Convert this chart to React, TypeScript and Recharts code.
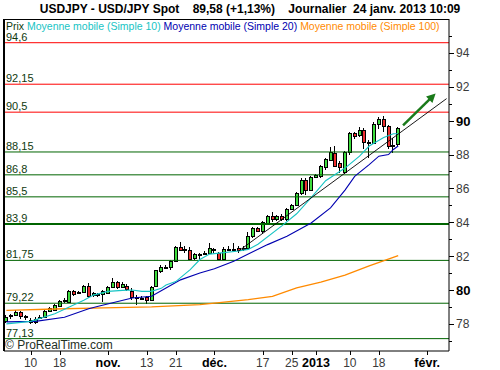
import React from 'react';
import { ComposedChart, Bar, Line, XAxis, YAxis, ReferenceLine } from 'recharts';

// trading days shown on the axis (the last ones are empty space to the right)
const octDays = [3, 4, 5, 8, 9, 10, 11, 12, 15, 16, 17, 18, 19, 22, 23, 24, 25, 26, 29, 30, 31];
const novDays = [1, 2, 5, 6, 7, 8, 9, 12, 13, 14, 15, 16, 19, 20, 21, 22, 23, 26, 27, 28, 29, 30];
const decDays = [3, 4, 5, 6, 7, 10, 11, 12, 13, 14, 17, 18, 19, 20, 21, 24, 25, 26, 27, 28, 31];
const janDays = [1, 2, 3, 4, 7, 8, 9, 10, 11, 14, 15, 16, 17, 18, 21, 22, 23, 24, 25, 28, 29, 30, 31];
const febDays = [1, 4, 5, 6, 7];

const pad = (d: number) => (d < 10 ? '0' + d : '' + d);
const dates: string[] = [
  ...octDays.map((d) => `2012-10-${pad(d)}`),
  ...novDays.map((d) => `2012-11-${pad(d)}`),
  ...decDays.map((d) => `2012-12-${pad(d)}`),
  ...janDays.map((d) => `2013-01-${pad(d)}`),
  ...febDays.map((d) => `2013-02-${pad(d)}`),
];

// daily candles, 3 Oct 2012 -> 24 Jan 2013
const opens = [
  78.15, 78.45, 78.55, 78.7, 78.45, 78.25, 78.1, 78.35, 78.4, 78.75, 78.8, 79.05, 79.35, 79.3, 79.92, 79.85, 79.87, 80.22, 79.72, 79.78, 79.78,
  79.83, 80.18, 80.45, 80.18, 80.26, 79.97, 79.55, 79.5, 79.57, 79.43, 80.22, 81.15, 81.36, 81.36, 81.7, 82.55, 82.4, 82.39, 81.9, 82.1, 82.2, 82.19,
  82.45, 82.19, 81.84, 82.43, 82.45, 82.5, 82.4, 82.5, 83.2, 83.67, 83.47, 83.96, 84.39, 84.2, 84.39, 84.2, 84.8, 85.04, 85.73, 86.52, 85.93,
  86.68, 86.71, 87.27, 87.7, 88.1, 87.5, 86.95, 88.13, 89.27, 89.17, 89.47, 88.72, 88.68, 89.82, 90.1, 89.66, 88.52, 88.6,
];
const highs = [
  78.5, 78.6, 78.85, 78.75, 78.5, 78.35, 78.4, 78.5, 78.85, 79.0, 79.15, 79.4, 79.5, 80.0, 80.0, 79.95, 80.3, 80.4, 79.9, 79.85, 80.0,
  80.25, 80.7, 80.55, 80.5, 80.35, 80.1, 79.7, 79.65, 79.65, 80.25, 81.2, 81.45, 81.5, 81.8, 82.6, 82.85, 82.6, 82.55, 82.2, 82.2, 82.3, 82.78,
  82.5, 82.25, 82.55, 82.6, 82.8, 82.6, 82.6, 83.4, 83.75, 83.75, 84.1, 84.45, 84.6, 84.45, 84.5, 84.85, 85.1, 85.8, 86.6, 86.6, 86.75,
  86.85, 87.4, 87.8, 88.45, 88.5, 87.6, 88.2, 89.35, 89.35, 89.65, 89.55, 88.85, 89.9, 90.2, 90.25, 89.75, 88.95, 89.65,
];
const lows = [
  78.05, 78.3, 78.45, 78.3, 78.25, 78.0, 78.0, 78.3, 78.35, 78.7, 78.75, 79.0, 79.25, 79.25, 79.65, 79.75, 79.8, 79.55, 79.6, 79.6, 79.3,
  79.75, 80.1, 80.05, 80.1, 79.95, 79.4, 79.1, 79.4, 79.2, 79.35, 80.15, 81.0, 81.25, 81.2, 81.65, 82.3, 82.2, 81.8, 81.8, 81.7, 82.05, 82.1,
  82.2, 81.78, 81.8, 82.3, 82.25, 82.2, 82.3, 82.45, 83.1, 83.4, 83.3, 83.9, 84.0, 84.05, 84.05, 84.1, 84.7, 84.95, 85.6, 85.6, 85.85,
  86.6, 86.6, 87.1, 87.6, 87.25, 86.9, 86.85, 88.0, 88.9, 89.05, 88.3, 87.8, 88.6, 89.5, 89.35, 88.35, 88.1, 88.45,
];
const closes = [
  78.4, 78.5, 78.7, 78.45, 78.4, 78.1, 78.3, 78.4, 78.75, 78.95, 79.1, 79.33, 79.4, 79.95, 79.75, 79.88, 80.22, 79.63, 79.8, 79.7, 79.92,
  80.18, 80.48, 80.15, 80.36, 80.07, 79.57, 79.6, 79.55, 79.43, 80.16, 81.16, 81.34, 81.38, 81.7, 82.55, 82.38, 82.35, 81.86, 82.15, 82.13, 82.2, 82.49,
  82.4, 81.84, 82.45, 82.45, 82.45, 82.38, 82.5, 83.2, 83.67, 83.5, 84.0, 84.35, 84.2, 84.39, 84.2, 84.8, 85.04, 85.73, 86.52, 85.93, 86.68,
  86.81, 87.3, 87.74, 88.13, 87.3, 87.25, 88.13, 89.27, 89.1, 89.47, 88.74, 88.7, 89.82, 90.1, 89.66, 88.52, 88.55, 89.58,
];

// moving averages
const ma10Pts: [string, number][] = [
  ['2012-10-03', 78.0], ['2012-10-10', 78.15], ['2012-10-17', 78.6], ['2012-10-22', 79.0], ['2012-10-25', 79.4],
  ['2012-10-29', 79.7], ['2012-11-01', 79.92], ['2012-11-06', 79.98], ['2012-11-08', 80.0], ['2012-11-12', 79.92],
  ['2012-11-14', 79.92], ['2012-11-16', 80.1], ['2012-11-19', 80.3], ['2012-11-21', 80.5], ['2012-11-26', 81.2],
  ['2012-11-28', 81.8], ['2012-11-30', 82.12], ['2012-12-04', 82.18], ['2012-12-10', 82.3], ['2012-12-12', 82.4],
  ['2012-12-14', 82.7], ['2012-12-21', 83.8], ['2012-12-26', 84.5], ['2012-12-31', 85.45], ['2013-01-03', 86.45],
  ['2013-01-09', 87.2], ['2013-01-14', 87.9], ['2013-01-16', 88.5], ['2013-01-21', 89.0], ['2013-01-23', 89.23], ['2013-01-24', 89.23],
];
const ma20Pts: [string, number][] = [
  ['2012-10-03', 78.12], ['2012-10-11', 78.15], ['2012-10-19', 78.39], ['2012-10-26', 78.89], ['2012-10-30', 79.04],
  ['2012-11-08', 79.53], ['2012-11-14', 79.63], ['2012-11-19', 80.12], ['2012-11-22', 80.6], ['2012-11-28', 81.0],
  ['2012-12-03', 81.26], ['2012-12-07', 81.7], ['2012-12-12', 82.13], ['2012-12-18', 82.68], ['2012-12-24', 83.17],
  ['2012-12-31', 83.96], ['2013-01-04', 84.85], ['2013-01-09', 85.9], ['2013-01-11', 86.71], ['2013-01-16', 87.4],
  ['2013-01-18', 87.9], ['2013-01-22', 88.0], ['2013-01-23', 88.3], ['2013-01-24', 88.5],
];
const ma100Pts: [string, number][] = [
  ['2012-10-03', 78.8], ['2012-10-17', 78.88], ['2012-10-31', 78.95], ['2012-11-14', 79.0], ['2012-11-28', 79.14],
  ['2012-12-12', 79.43], ['2012-12-19', 79.63], ['2012-12-26', 80.12], ['2013-01-02', 80.46], ['2013-01-09', 80.88],
  ['2013-01-16', 81.42], ['2013-01-24', 82.03],
];

// drawn trend line and arrow
const trendPts: [string, number][] = [['2012-12-10', 82.3], ['2013-02-07', 91.3]];
const arrowPts: [string, number][] = [['2013-01-25', 89.72], ['2013-02-04', 91.4]];

const resistances = ['94,6', '92,15', '90,5'];
const resistanceVals = [94.6, 92.15, 90.5];
const supports = ['88,15', '86,8', '85,5', '83,9', '81,75', '79,22', '77,13'];
const supportVals = [88.15, 86.8, 85.5, 83.9, 81.75, 79.22, 77.13];

const xTickDates = ['2012-10-10', '2012-10-18', '2012-11-01', '2012-11-13', '2012-11-21', '2012-12-03',
  '2012-12-17', '2012-12-25', '2013-01-01', '2013-01-10', '2013-01-18', '2013-02-01'];
const xTickLabels = ['10', '18', 'nov.', '13', '21', 'déc.', '17', '25', '2013', '10', '18', 'févr.'];
const boldXLabels = ['nov.', 'déc.', '2013', 'févr.'];
const yTicks = [77, 78, 79, 80, 81, 82, 83, 84, 85, 86, 87, 88, 89, 90, 91, 92, 93, 94, 95];

const FONT = '"Liberation Sans", Arial, sans-serif';
const GREEN = '#3ddc3d';
const RED = '#ee2f2f';

const m10 = new Map(ma10Pts);
const m20 = new Map(ma20Pts);
const m100 = new Map(ma100Pts);
const mTrend = new Map(trendPts);
const mArrow = new Map(arrowPts);

const data = dates.map((date, i) => {
  const has = i < closes.length;
  return {
    date,
    open: has ? opens[i] : null,
    high: has ? highs[i] : null,
    low: has ? lows[i] : null,
    close: has ? closes[i] : null,
    range: has ? [lows[i], highs[i]] : null,
    ma10: m10.get(date) ?? null,
    ma20: m20.get(date) ?? null,
    ma100: m100.get(date) ?? null,
    trend: mTrend.get(date) ?? null,
    arrow: mArrow.get(date) ?? null,
  };
});
const arrowEnd = dates.indexOf(arrowPts[1][0]);

const Candle = (props: any) => {
  const { x, y, width, height, payload } = props;
  if (!payload || payload.open == null) return <g />;
  const { open, close, high, low } = payload;
  const top = Math.min(y, y + height);
  const h = Math.abs(height);
  const k = h / (high - low);
  const cx = Math.round(x + width / 2);
  const yOf = (v: number) => top + (high - v) * k;
  const bTop = Math.round(yOf(Math.max(open, close)));
  const bBot = Math.round(yOf(Math.min(open, close)));
  const up = close >= open;
  return (
    <g>
      <line x1={cx - 0.5} x2={cx - 0.5} y1={Math.round(top)} y2={Math.round(top + h)} stroke="#000" strokeWidth={1} />
      <rect x={cx - 1.5} y={bTop + 0.5} width={3} height={Math.max(bBot - bTop, 1)}
        fill={up ? GREEN : RED} stroke="#000" strokeWidth={1} />
    </g>
  );
};

const ArrowHead = (props: any) => {
  const { cx, cy, index } = props;
  if (index !== arrowEnd || cx == null) return <g key={`a${index}`} />;
  const a = -Math.PI / 4;
  const ux = Math.cos(a), uy = Math.sin(a);
  const px = -uy, py = ux;
  const tip = [cx + ux * 5, cy + uy * 5];
  const b1 = [cx - ux * 4 + px * 4.5, cy - uy * 4 + py * 4.5];
  const b2 = [cx - ux * 4 - px * 4.5, cy - uy * 4 - py * 4.5];
  return <polygon key={`a${index}`} points={`${tip.join(',')} ${b1.join(',')} ${b2.join(',')}`} fill="#1a7a1a" />;
};

const YTick = (props: any) => {
  const { x, y, payload } = props;
  const v = payload.value;
  const major = v % 2 === 0;
  const bold = v === 80 || v === 90;
  return (
    <g>
      <line x1={x} x2={x + (major ? 5 : 3)} y1={Math.round(y) + 0.5} y2={Math.round(y) + 0.5} stroke="#000" />
      {major && (
        <text x={x + 7} y={y + (bold ? 5 : 4.5)} fontFamily={FONT} fontSize={bold ? 13 : 12}
          fontWeight={bold ? 700 : 400} fill={bold ? '#000' : '#3a3a3a'}>{v}</text>
      )}
    </g>
  );
};

const XTick = (props: any) => {
  const { x, y, payload } = props;
  const label = xTickLabels[xTickDates.indexOf(payload.value)] ?? '';
  const bold = boldXLabels.includes(label);
  const lx = Math.round(x) + 0.5;
  return (
    <g>
      <line x1={lx} x2={lx} y1={y} y2={y + 4} stroke="#000" />
      <text x={x} y={y + 16} textAnchor="middle" fontFamily={FONT} fontSize={bold ? 12.5 : 12}
        fontWeight={bold ? 700 : 400} fill={bold ? '#000' : '#3a3a3a'}>{label}</text>
    </g>
  );
};

const levelLabel = (txt: string) => (p: any) => (
  <text x={p.viewBox.x + 2} y={p.viewBox.y - 2} fontFamily={FONT} fontSize={11} fill="#0f3a0f">{txt}</text>
);

export default function App() {
  return (
    <div style={{ position: 'absolute', left: 0, top: 0, width: 500, height: 370, background: '#fff', fontFamily: FONT }}>
      <ComposedChart width={500} height={370} data={data} margin={{ top: 19, right: 0, bottom: 0, left: 4 }}
        barCategoryGap={0}>
        <XAxis dataKey="date" type="category" ticks={xTickDates} interval={0} height={19}
          axisLine={{ stroke: '#000' }} tickLine={false} tickSize={0} tickMargin={0} tick={<XTick />} />
        <YAxis orientation="right" type="number" domain={[76.4, 96]} ticks={yTicks} interval={0} width={51}
          axisLine={{ stroke: '#000' }} tickLine={false} tickSize={0} tickMargin={0} tick={<YTick />} />
        {resistanceVals.map((v, i) => (
          <ReferenceLine key={'r' + i} y={v} stroke="#ff0000" strokeWidth={1} label={levelLabel(resistances[i])} />
        ))}
        {supportVals.map((v, i) => (
          <ReferenceLine key={'s' + i} y={v} stroke="#006400" strokeWidth={v === 83.9 ? 2 : 1} label={levelLabel(supports[i])} />
        ))}
        <Line dataKey="ma100" type="linear" stroke="#ff8a00" strokeWidth={1.3} dot={false} connectNulls isAnimationActive={false} />
        <Line dataKey="ma20" type="linear" stroke="#0000b0" strokeWidth={1.1} dot={false} connectNulls isAnimationActive={false} />
        <Line dataKey="ma10" type="linear" stroke="#16c4c4" strokeWidth={1.1} dot={false} connectNulls isAnimationActive={false} />
        <Line dataKey="trend" type="linear" stroke="#000" strokeWidth={0.9} dot={false} connectNulls isAnimationActive={false} />
        <Bar dataKey="range" shape={<Candle />} isAnimationActive={false} />
        <Line dataKey="arrow" type="linear" stroke="#1a7a1a" strokeWidth={2.5} dot={<ArrowHead />} connectNulls isAnimationActive={false} />
      </ComposedChart>
      {/* title */}
      <div style={{ position: 'absolute', left: 0, top: 1, width: 500, textAlign: 'center', fontSize: 12, fontWeight: 700,
        lineHeight: '16px', whiteSpace: 'pre', color: '#000' }}>
        {'USDJPY - USD/JPY Spot    89,58 (+1,13%)    Journalier  24 janv. 2013 10:09'}
      </div>
      {/* frame */}
      <div style={{ position: 'absolute', left: 3, top: 19, width: 446, height: 1, background: '#000' }} />
      <div style={{ position: 'absolute', left: 3, top: 19, width: 2, height: 332, background: '#000' }} />
      {/* legend */}
      <div style={{ position: 'absolute', left: 6, top: 19, fontSize: 10.5, lineHeight: '14px', whiteSpace: 'pre' }}>
        <span style={{ color: '#0f3a0f' }}>Prix </span>
        <span style={{ color: '#16c4c4' }}>Moyenne mobile (Simple 10) </span>
        <span style={{ color: '#0000b0' }}>Moyenne mobile (Simple 20) </span>
        <span style={{ color: '#ff8a00' }}>Moyenne mobile (Simple 100)</span>
      </div>
      <div style={{ position: 'absolute', left: 5, top: 338, fontSize: 12, lineHeight: '14px', color: '#1f2f1f' }}>
        © ProRealTime.com
      </div>
    </div>
  );
}
